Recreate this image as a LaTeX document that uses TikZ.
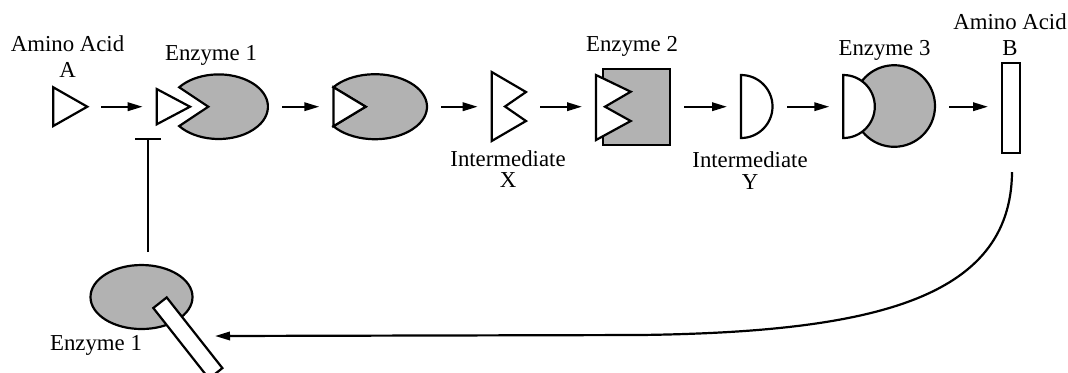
\documentclass[tikz,border=0pt]{standalone}
\usepackage{fontspec}
\setmainfont{Liberation Serif}
\usetikzlibrary{arrows.meta}
\begin{document}
\begin{tikzpicture}[x=0.5pt,y=-0.5pt,line width=1.1pt,
  enz/.style={draw,fill=black!30},
  subst/.style={draw,fill=white},
  tip/.style={-{Triangle[length=7.5pt,width=4.2pt]}},
  flow/.style={tip,shorten <=7pt,shorten >=7pt},
  lbl/.style={font=\fontsize{11.4pt}{13pt}\selectfont,align=center},
  lbltight/.style={font=\fontsize{11.4pt}{10.9pt}\selectfont,align=center}]
\useasboundingbox (0,0) rectangle (1068,372);
\clip (0,0) rectangle (1068,372);
\coordinate (A-e) at (87.3,106.7);
\coordinate (E1-w) at (156.7,106.7);
\coordinate (E1-e) at (268,106.7);
\coordinate (P2-w) at (333.3,106.7);
\coordinate (P2-e) at (427.3,106.7);
\coordinate (X-w) at (491.7,106.7);
\coordinate (X-e) at (526,106.7);
\coordinate (E2-w) at (596,106.7);
\coordinate (E2-e) at (670,106.7);
\coordinate (Y-w) at (741,106.7);
\coordinate (Y-e) at (773,106.7);
\coordinate (E3-w) at (843.3,106.7);
\coordinate (E3-e) at (935,106.7);
\coordinate (B-w) at (1002,106.7);
\coordinate (inh-s) at (148,252);
\coordinate (inh-e) at (148,138);
\coordinate (fb-s) at (1012,172);
\coordinate (fb-e) at (215,336);
\draw[subst] (53.3,87.3) -- (87.3,106.7) -- (53.3,126) -- cycle;
\draw[enz] (179.2,87.3) arc[start angle=-143.13,end angle=143.13,x radius=49.3,y radius=32.3] -- (208.3,106.7) -- cycle;
\draw[subst] (156.7,89) -- (190,106.7) -- (156.7,124.3) -- cycle;
\draw[enz] (333.4,87.2) arc[start angle=-143.13,end angle=143.13,x radius=52,y radius=32.5] -- (365.7,106.7) -- cycle;
\draw[subst] (333.4,87.2) -- (365.7,106.7) -- (333.4,126.2) -- cycle;
\draw[subst] (491.7,72) -- (526,92) -- (505,106.5) -- (526,121) -- (491.7,141) -- cycle;
\draw[enz] (603,69) rectangle (670,145);
\draw[subst] (596,75) -- (630.7,91.7) -- (605,106.7) -- (630.7,121) -- (596,140) -- cycle;
\draw[subst] (741,75) arc[start angle=-90,end angle=90,radius=31.5] -- cycle;
\draw[enz] (894.2,106) circle[radius=40.8];
\draw[subst] (843.3,75) arc[start angle=-90,end angle=90,radius=31.5] -- cycle;
\draw[subst] (1002,63.3) rectangle (1020,153.3);
\draw[enz] (141.5,297) ellipse[x radius=51,y radius=32];
\draw[subst] (166.7,297.4) -- (153.3,308) -- (209,378.7) -- (222.4,368.1) -- cycle;
\draw[flow] (A-e) -- (E1-w);
\draw[flow] (E1-e) -- (P2-w);
\draw[flow] (P2-e) -- (X-w);
\draw[flow] (X-e) -- (E2-w);
\draw[flow] (E2-e) -- (Y-w);
\draw[flow] (Y-e) -- (E3-w);
\draw[flow] (E3-e) -- (B-w);
\draw[-{Bar[width=13pt]}] (inh-s) -- (inh-e);
\draw[tip] (fb-s) .. controls (1011,300) and (870,332) .. (640,335) -- (fb-e);
\node[lbl] (aaA) at (67.5,56.5) {Amino Acid\\A};
\node[lbl] (enz1) at (211,55.8) {Enzyme 1};
\node[lbltight] (intX) at (508,169) {Intermediate\\X};
\node[lbl] (enz2) at (632,46.5) {Enzyme 2};
\node[lbltight] (intY) at (750,170.5) {Intermediate\\Y};
\node[lbl] (enz3) at (884.5,50) {Enzyme 3};
\node[lbl] (aaB) at (1010,35) {Amino Acid\\B};
\node[lbl] (enz1b) at (96,345.5) {Enzyme 1};
\end{tikzpicture}
\end{document}
